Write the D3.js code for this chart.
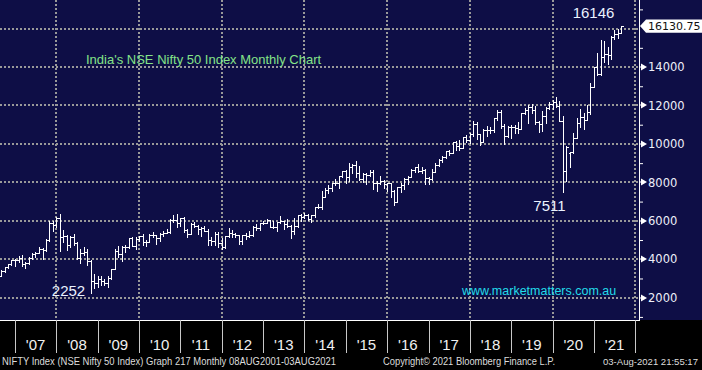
<!DOCTYPE html>
<html><head><meta charset="utf-8">
<script src="https://cdn.jsdelivr.net/npm/d3@7"></script>
<style>
html,body{margin:0;padding:0;background:#000;}
svg{display:block;}
</style></head>
<body>
<svg id="chart" width="702" height="370"></svg>
<script>
// ---------------- DATA (monthly OHLC, Aug 2006 .. Aug 2021) ----------------
const firstMonth = "2006-08";
const open = [
 3144,3413,3588,3744,3955,
 3966,4082,3745,3822,4087,4296,4318,4529,4464,5021,5900,5762,
 6139,5137,5224,4735,5166,4870,4040,4333,4360,3921,2885,2755,
 2959,2874,2763,3021,3474,4449,4291,4636,4662,5084,4712,5033,
 5201,4882,4922,5249,5278,5087,5313,5368,5402,6030,6018,5863,
 6135,5506,5333,5834,5750,5560,5647,5482,5001,4943,5327,4832,
 4624,5199,5385,5296,5248,4924,5279,5229,5259,5703,5620,5880,
 5905,6035,5693,5683,5930,5986,5842,5742,5472,5735,6299,6176,
 6304,6090,6277,6704,6696,7230,7611,7721,7954,7965,8322,8588,
 8283,8809,8902,8491,8182,8434,8368,8533,7971,7949,8066,7935,
 7946,7564,6987,7738,7850,8160,8288,8639,8786,8611,8626,8224,
 8186,8561,8880,9174,9304,9621,9521,10077,9918,9789,10335,10227,
 10531,11028,10493,10114,10739,10736,10714,11357,11681,10930,10387,10877,
 10863,10831,10793,11624,11748,11923,11789,11118,11023,11474,11877,12056,
 12168,11962,11202,8598,9533,9580,10302,11073,11388,11248,11642,12969,
 13982,13635,14529,14691,14631,15583,15722,15763
];
const high = [
 3430,3603,3774,3970,4000,
 4167,4245,3875,4109,4300,4352,4620,4560,5055,5976,6012,6185,
 6357,5545,5272,5230,5298,4908,4539,4650,4558,3950,3240,3147,
 3148,2969,3123,3518,4509,4693,4669,4744,5088,5182,5139,5221,
 5311,4992,5329,5400,5278,5367,5478,5549,6073,6284,6338,6147,
 6181,5599,5872,5945,5775,5657,5740,5551,5170,5399,5400,5099,
 5217,5630,5499,5379,5279,5286,5349,5448,5735,5815,5885,5965,
 6111,6052,5971,5963,6229,6012,6093,5808,6142,6309,6342,6415,
 6358,6282,6731,6869,7563,7700,7841,7968,8180,8330,8617,8627,
 8996,8941,9119,8844,8490,8467,8655,8622,8055,8336,8116,7979,
 7973,7600,7777,7992,8213,8308,8674,8819,8969,8807,8670,8274,
 8672,8983,9218,9367,9650,9709,10115,10138,10179,10385,10490,10553,
 11172,11118,10525,10759,10930,10893,11366,11760,11752,11035,10922,10985,
 10988,11118,11630,11856,12041,12103,11981,11182,11695,11946,12158,12294,
 12430,12246,11433,9889,9599,10554,11341,11794,11618,12025,13146,14024,
 14754,15432,15337,15045,15606,15915,15962,16146
];
const low = [
 3110,3320,3540,3700,3657,
 3850,3675,3554,3772,4014,4140,4305,4002,4430,4932,5490,5676,
 4448,4908,4468,4628,4752,3996,3790,4218,3715,2253,2502,2570,
 2661,2677,2539,2966,3470,4143,3918,4353,4576,4687,4538,4944,
 4767,4676,4922,5160,4786,4962,5225,5349,5380,5937,5690,5721,
 5416,5178,5333,5693,5328,5196,5453,4720,4758,4728,4640,4531,
 4588,5159,5135,5154,4789,4770,5032,5164,5215,5548,5548,5823,
 5890,5671,5604,5477,5910,5566,5675,5119,5318,5700,5972,6130,
 6027,5933,6212,6650,6638,7230,7422,7540,7841,7724,8291,7961,
 8065,8470,8269,8145,7997,7940,8316,7667,7540,7930,7714,7551,
 7241,6825,6986,7516,7679,7927,8287,8519,8555,8506,7916,7894,
 8133,8537,8860,9075,9269,9448,9521,9686,9688,9789,10094,10033,
 10404,10276,9952,10111,10418,10550,10604,11234,10850,10005,10341,10334,
 10583,10586,10793,11549,11108,11625,11050,10637,10670,11090,11802,11833,
 11930,11175,7511,8055,8807,9544,10299,10882,10790,11248,11557,12962,
 13597,13597,14265,14151,14417,15450,15513,15763
];
const close = [
 3413,3588,3744,3955,3966,
 4082,3745,3822,4087,4296,4318,4529,4464,5021,5900,5762,6139,
 5137,5224,4735,5166,4870,4040,4333,4360,3921,2885,2755,2959,
 2874,2763,3021,3474,4449,4291,4636,4662,5084,4712,5033,5201,
 4882,4922,5249,5278,5087,5313,5368,5402,6030,6018,5863,6135,
 5506,5333,5834,5750,5560,5647,5482,5001,4943,5327,4832,4624,
 5199,5385,5296,5248,4924,5279,5229,5259,5703,5620,5880,5905,
 6035,5693,5683,5930,5986,5842,5742,5472,5735,6299,6176,6304,
 6090,6277,6704,6696,7230,7611,7721,7954,7965,8322,8588,8283,
 8809,8902,8491,8182,8434,8368,8533,7971,7949,8066,7935,7946,
 7564,6987,7738,7850,8160,8288,8639,8786,8611,8626,8224,8186,
 8561,8880,9174,9304,9621,9521,10077,9918,9789,10335,10227,10531,
 11028,10493,10114,10739,10736,10714,11357,11681,10930,10387,10877,10863,
 10831,10793,11624,11748,11923,11789,11118,11023,11474,11877,12056,12168,
 11962,11202,8598,9860,9580,10302,11073,11388,11248,11642,12969,13982,
 13635,14529,14691,14631,15583,15722,15763,16131
];
const yearLabels = ["'07","'08","'09","'10","'11","'12","'13","'14","'15","'16","'17","'18","'19","'20","'21"];
const yTicks = [2000,4000,6000,8000,10000,12000,14000,16000];
const yMinorTicks = [1000,3000,5000,7000,9000,11000,13000,15000,17000];
const lastValue = 16130.75;
const annotations = [
  {text:"2252",  value:2252,  month:"2008-10"},
  {text:"7511",  value:7511,  month:"2020-03"},
  {text:"16146", value:16146, month:"2021-08"}
];
const titleText = "India's NSE Nifty 50 Index Monthly Chart";
const siteText = "www.marketmatters.com.au";
const footerLeft = "NIFTY Index (NSE Nifty 50 Index) Graph 217  Monthly 08AUG2001-03AUG2021";
const footerMid = "Copyright\u00A9 2021 Bloomberg Finance L.P.";
const footerRight = "03-Aug-2021 21:55:17";

// ---------------- LAYOUT ----------------
const W = 702, H = 370;
const plotRight = 639, plotBottom = 320;
const svg = d3.select("#chart");
const bg = "#0e0e46";

svg.append("rect").attr("width", W).attr("height", H).attr("fill", "#000");
svg.append("rect").attr("width", W).attr("height", plotBottom).attr("fill", bg);

const parseMonth = d3.timeParse("%Y-%m");
const m0 = parseMonth(firstMonth);
const months = d3.range(close.length).map(i => d3.timeMonth.offset(m0, i));

const x = d3.scaleTime()
  .domain([new Date(2007,0,1), new Date(2022,0,1)])
  .range([15, 635.3]);
const y = d3.scaleLinear().domain([2000,16000]).range([297.7, 28.6]);

// bar position: end of month
const barX = d => Math.round(x(d3.timeMonth.offset(d,1))) + 0.5;

// ---------------- GRID ----------------
const grid = svg.append("g").attr("stroke", "#999999").attr("stroke-width", 2)
  .attr("stroke-dasharray", "2,2");
const gridYears = d3.range(2008, 2023, 2).map(yr => new Date(yr,0,1));
grid.selectAll("line.v").data(gridYears).join("line").attr("class","v")
  .attr("x1", d => Math.round(x(d))).attr("x2", d => Math.round(x(d)))
  .attr("y1", 0).attr("y2", plotBottom);
grid.selectAll("line.h").data(yTicks).join("line").attr("class","h")
  .attr("x1", 0).attr("x2", plotRight)
  .attr("y1", d => Math.round(y(d))).attr("y2", d => Math.round(y(d)));

// ---------------- BARS ----------------
svg.append("clipPath").attr("id","pclip").append("rect")
  .attr("x",0).attr("y",0).attr("width",plotRight).attr("height",plotBottom);
const bars = svg.append("g").attr("clip-path","url(#pclip)")
  .attr("stroke", "#ffffff").attr("stroke-width", 1).attr("shape-rendering","crispEdges");
const idx = d3.range(close.length);
bars.selectAll("line.hl").data(idx).join("line").attr("class","hl")
  .attr("x1", i => barX(months[i])).attr("x2", i => barX(months[i]))
  .attr("y1", i => Math.round(y(high[i]))).attr("y2", i => Math.round(y(low[i]))+1);
bars.selectAll("line.o").data(idx).join("line").attr("class","o")
  .attr("x1", i => barX(months[i]) - 2).attr("x2", i => barX(months[i]))
  .attr("y1", i => Math.round(y(open[i]))+0.5).attr("y2", i => Math.round(y(open[i]))+0.5);
bars.selectAll("line.c").data(idx).join("line").attr("class","c")
  .attr("x1", i => barX(months[i])).attr("x2", i => barX(months[i]) + 2.5)
  .attr("y1", i => Math.round(y(close[i]))+0.5).attr("y2", i => Math.round(y(close[i]))+0.5);

// ---------------- RIGHT AXIS ----------------
const axR = svg.append("g").attr("transform", `translate(${plotRight},0)`)
  .call(d3.axisRight(y).tickValues(yMinorTicks).tickSize(4).tickFormat(""));
axR.select(".domain").remove();
axR.selectAll(".tick line").attr("stroke","#ffffff");
svg.append("line").attr("x1", plotRight+0.5).attr("x2", plotRight+0.5)
  .attr("y1", 0).attr("y2", plotBottom).attr("stroke","#ffffff");

const major = yTicks.filter(v => v !== 16000);
const axLab = svg.append("g");
axLab.selectAll("path").data(major).join("path")
  .attr("d", v => { const yy = Math.round(y(v)); return `M${plotRight},${yy-0.5}L${plotRight+2},${yy-0.5}L${plotRight+2},${yy-3.5}L${plotRight+8},${yy}L${plotRight+2},${yy+3.5}L${plotRight+2},${yy+0.5}L${plotRight},${yy+0.5}Z`; })
  .attr("fill","#ffffff");
axLab.selectAll("text").data(major).join("text")
  .attr("x", plotRight + 9).attr("y", v => y(v)).attr("dy","0.36em")
  .attr("font-family","'DejaVu Sans', Verdana, sans-serif").attr("font-size", 11.5)
  .attr("fill","#eef0fa").text(v => v);

// last-value callout
const ly = y(lastValue);
svg.append("path")
  .attr("d", `M${plotRight+1},${ly}L${plotRight+7},${ly-6.7}L${W},${ly-6.7}L${W},${ly+6.7}L${plotRight+7},${ly+6.7}Z`)
  .attr("fill","#ffffff");
svg.append("text").attr("x", plotRight + 9).attr("y", ly).attr("dy","0.36em")
  .attr("font-family","'DejaVu Sans', Verdana, sans-serif").attr("font-size", 11)
  .attr("fill","#111111").text(d3.format(".2f")(lastValue));

// ---------------- BOTTOM AXIS ----------------
svg.append("line").attr("x1",0).attr("x2",plotRight+1).attr("y1",plotBottom+0.5).attr("y2",plotBottom+0.5)
  .attr("stroke","#ffffff");
const yearStarts = d3.range(2007, 2023).map(yr => new Date(yr,0,1));
const axB = svg.append("g").attr("transform", `translate(0,${plotBottom})`)
  .call(d3.axisBottom(x).tickValues(yearStarts).tickSize(33).tickFormat(""));
axB.select(".domain").remove();
axB.selectAll(".tick line").attr("stroke","#c8c8c8").attr("shape-rendering","crispEdges");

const midYears = d3.range(2007, 2022).map(yr => new Date(yr,6,2));
svg.append("g").selectAll("text").data(midYears).join("text")
  .attr("x", d => x(d)).attr("y", 350).attr("text-anchor","middle")
  .attr("font-family","'Liberation Sans Narrow','Arial Narrow','Liberation Sans',sans-serif")
  .attr("font-size", 15).attr("fill","#f0f0f0")
  .text((d,i) => yearLabels[i]);

// ---------------- TEXTS ----------------
svg.append("text").attr("x", 86).attr("y", 64)
  .attr("font-family","'Liberation Sans', Arial, sans-serif").attr("font-size", 13)
  .attr("fill","#84e388").text(titleText);
svg.append("text").attr("x", 462).attr("y", 295)
  .attr("font-family","'Liberation Sans', Arial, sans-serif").attr("font-size", 12.5)
  .attr("fill","#22dcea").text(siteText);

const annPos = {"2252": {dx:-23, y:296}, "7511": {dx:-14, y:211}, "16146": {dx:-28, y:18}};
svg.append("g").selectAll("text").data(annotations).join("text")
  .attr("x", d => barX(parseMonth(d.month)) + annPos[d.text].dx)
  .attr("y", d => annPos[d.text].y)
  .attr("text-anchor","middle")
  .attr("font-family","'Liberation Sans Narrow','Arial Narrow','Liberation Sans',sans-serif")
  .attr("font-size", 15).attr("fill","#eaf2ff")
  .text(d => d.text);

const foot = svg.append("g").attr("font-family","'Liberation Sans', Arial, sans-serif")
  .attr("font-size", 10).attr("fill","#dcdcdc");
foot.append("text").attr("x", 2).attr("y", 365).attr("textLength", 334)
  .attr("lengthAdjust","spacingAndGlyphs").text(footerLeft);
foot.append("text").attr("x", 383).attr("y", 365).attr("textLength", 172)
  .attr("lengthAdjust","spacingAndGlyphs").text(footerMid);
foot.append("text").attr("x", 603).attr("y", 365).attr("font-size", 9.5).attr("textLength", 95)
  .attr("lengthAdjust","spacingAndGlyphs").text(footerRight);
</script>
</body></html>
